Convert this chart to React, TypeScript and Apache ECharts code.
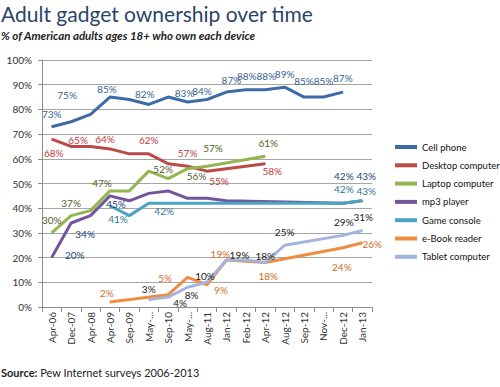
import React, { useEffect, useRef } from "react";
import * as echarts from "echarts";

const categories = ["Apr-06", "Dec-07", "Apr-08", "Apr-09", "Sep-09", "May-10", "Sep-10", "May-11", "Aug-11", "Jan-12", "Feb-12", "Apr-12", "Aug-12", "Sep-12", "Nov-12", "Dec-12", "Jan-13"];
const truncatedCategories = ["May-10", "May-11", "Nov-12"];

const cellPhone = [73, 75, 78, 85, 84, 82, 85, 83, 84, 87, 88, 88, 89, 85, 85, 87, null];
const desktop = [68, 65, 65, 64, 62, 62, 58, 57, 55, null, null, 58, null, null, null, null, null];
const laptop = [30, 37, 39, 47, 47, 55, 52, 56, 57, null, null, 61, null, null, null, null, null];
const mp3 = [20, 34, 37, 45, 43, 46, 47, 44, 44, 43, null, null, null, null, null, 42, 43];
const gameConsole = [null, null, null, 41, 37, 42, 42, null, null, null, null, null, null, null, null, 42, 43];
const eBook = [null, null, null, 2, null, null, 5, 12, 9, 19, null, 18, null, null, null, 24, 26];
const tablet = [null, null, null, null, null, 3, 4, 8, 10, 19, 19, 18, 25, null, null, 29, 31];

const seriesNames = ["Cell phone", "Desktop computer", "Laptop computer", "mp3 player", "Game console", "e-Book reader", "Tablet computer"];
const seriesValues = [cellPhone, desktop, laptop, mp3, gameConsole, eBook, tablet];

// label placement (style): index -> [dx, dy] offset from point
const labelPlacements: Record<number, [number, number]>[] = [
  { 0: [0, -13], 1: [-4, -27], 3: [-3, -8], 5: [-4, -10], 7: [-3, -9], 8: [-5, -9], 9: [5, -12], 10: [1, -14], 11: [1, -14], 12: [0, -13], 13: [0, -16], 14: [0, -16], 15: [0, -14] },
  { 0: [2, 14], 1: [7, -6], 3: [-5, -10], 5: [0, -14], 7: [0, -13], 8: [12, 10], 11: [7, 7] },
  { 0: [0, -13], 1: [0, -13], 3: [-8, -8], 6: [-5, -10], 7: [9, 7], 8: [6, -18], 11: [3, -13] },
  { 0: [23, -3], 1: [14, 11], 3: [6, 8], 15: [1, -27], 16: [4, -25] },
  { 3: [8, 13], 6: [-4, 8], 15: [1, -14], 16: [4, -10] },
  { 3: [-3, -9], 6: [-3, -17], 8: [14, 5], 9: [-6, -6], 11: [3, 13], 15: [-1, 19], 16: [10, 1] },
  { 5: [0, -11], 6: [12, 6], 7: [4, 8], 8: [-2, -6], 9: [13, -5], 11: [0, -7], 12: [0, -13], 15: [1, -13], 16: [1, -13] },
];

const lineColors = ["#3d6ba6", "#b94a48", "#94b552", "#74559c", "#4aa6c0", "#f08c40", "#a3b5dd"];
const labelColors = ["#365f91", "#c0393b", "#4f6228", "#24407a", "#2e7590", "#d46b1e", "#1a1a1a"];

const FONT = "Lato, 'Liberation Sans', sans-serif";

export default function App() {
  const ref = useRef<HTMLDivElement>(null);
  useEffect(() => {
    document.body.style.margin = "0";
    const chart = echarts.init(ref.current!, null, { renderer: "svg" });
    const series = seriesNames.map((name, si) => ({
      name,
      type: "line",
      color: lineColors[si],
      connectNulls: true,
      symbol: "circle",
      symbolSize: 1,
      showSymbol: true,
      lineStyle: { width: 3, color: lineColors[si] },
      itemStyle: { color: lineColors[si] },
      emphasis: { disabled: true },
      data: seriesValues[si].map((v, i) => {
        const p = labelPlacements[si][i];
        return {
          value: v,
          label: p
            ? { show: true, position: "inside", offset: p, formatter: "{c}%", color: labelColors[si], fontSize: 10, fontFamily: FONT }
            : { show: false },
        };
      }),
    }));
    chart.setOption({
      animation: false,
      backgroundColor: "#ffffff",
      grid: { left: 42, right: 128, top: 60, bottom: 80 },
      xAxis: {
        type: "category",
        data: categories.map((c) =>
          truncatedCategories.includes(c)
            ? { value: c, textStyle: { width: 32, overflow: "truncate", ellipsis: "..." } }
            : c
        ),
        boundaryGap: true,
        axisLine: { lineStyle: { color: "#8c8c8c", width: 1 } },
        axisTick: { show: true, length: 5, lineStyle: { color: "#8c8c8c" } },
        axisLabel: { rotate: 90, interval: 0, fontSize: 10, color: "#333", fontFamily: FONT, margin: 5 },
      },
      yAxis: {
        type: "value",
        min: 0,
        max: 100,
        interval: 10,
        axisLine: { show: true, lineStyle: { color: "#8c8c8c" } },
        axisTick: { show: true, length: 4, lineStyle: { color: "#8c8c8c" } },
        axisLabel: { formatter: "{value}%", fontSize: 10, color: "#333", fontFamily: FONT, margin: 10 },
        splitLine: { lineStyle: { color: "#a6a6a6", width: 1 } },
      },
      legend: {
        orient: "vertical",
        left: 390,
        top: 136,
        icon: "rect",
        itemWidth: 22,
        itemHeight: 4,
        itemGap: 6.3,
        textStyle: { fontSize: 9.5, fontWeight: "normal", color: "#111", fontFamily: FONT, lineHeight: 12 },
        data: seriesNames,
      },
      graphic: [
        {
          type: "text",
          x: 1,
          y: 3,
          style: { text: "Adult gadget ownership over time", font: `21px ${FONT}`, fill: "#2b4468", textVerticalAlign: "top" },
        },
        {
          type: "text",
          x: 1,
          y: 29,
          style: { text: "% of American adults ages 18+ who own each device", font: `italic bold 11.5px ${FONT}`, fill: "#222", textVerticalAlign: "top" },
        },
        {
          type: "text",
          x: 1,
          y: 367,
          style: {
            text: "{b|Source:} Pew Internet surveys 2006-2013",
            font: `11px ${FONT}`,
            fill: "#222",
            textVerticalAlign: "top",
            rich: { b: { fontWeight: "bold", fontSize: 11, fontFamily: FONT, fill: "#222" } },
          },
        },
      ],
      series,
    });
    return () => chart.dispose();
  }, []);
  return <div ref={ref} style={{ position: "absolute", left: 0, top: 0, width: 500, height: 387 }} />;
}
